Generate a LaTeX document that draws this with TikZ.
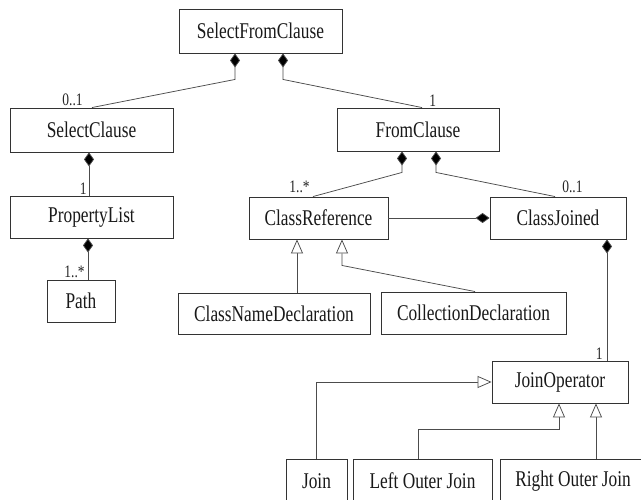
\documentclass[tikz,border=0pt]{standalone}
\usepackage{fontspec}
\setmainfont{Liberation Serif}[FakeStretch=0.77]
\usetikzlibrary{arrows.meta}

\tikzset{
  box/.style={draw=black!80, line width=0.9pt, inner sep=0pt, align=center,
    font=\fontsize{22.5}{26}\selectfont, text=black!90},
  mult/.style={inner sep=0pt, font=\fontsize{17.5}{20}\selectfont, text=black!85},
  comp/.style={draw=black!70, line width=0.75pt,
    {Diamond[length=14pt,width=10pt,fill=black]}-},
  compend/.style={draw=black!70, line width=0.75pt,
    -{Diamond[length=14pt,width=10pt,fill=black]}},
  gen/.style={draw=black!70, line width=0.75pt,
    -{Triangle[open,length=14pt,width=12pt,fill=white]}}
}

\begin{document}
\begin{tikzpicture}[x=1pt,y=-1pt]
\useasboundingbox[fill=white] (0,0) rectangle (641,500);

% classes
\node[box, minimum width=163pt, minimum height=44pt] (sfc)  at (260.5,31)  {SelectFromClause};
\node[box, minimum width=163pt, minimum height=44pt] (sc)   at (91.5,130)  {SelectClause};
\node[box, minimum width=162pt, minimum height=43pt] (fc)   at (418,129.5) {FromClause};
\node[box, minimum width=163pt, minimum height=42pt] (pl)   at (91.5,217)  {PropertyList};
\node[box, minimum width=68pt,  minimum height=42pt] (path) at (81,301)    {Path};
\node[box, minimum width=139pt, minimum height=42pt] (cr)   at (318.5,218) {ClassReference};
\node[box, minimum width=136pt, minimum height=42pt] (cj)   at (558,218)   {ClassJoined};
\node[box, minimum width=192pt, minimum height=41pt] (cnd)  at (274,313.5) {ClassNameDeclaration};
\node[box, minimum width=185pt, minimum height=42pt] (cd)   at (473.5,313) {CollectionDeclaration};
\node[box, minimum width=136pt, minimum height=42pt] (jo)   at (560,382)   {JoinOperator};
\node[box, minimum width=61pt,  minimum height=44pt] (join) at (316.5,481) {Join};
\node[box, minimum width=139pt, minimum height=44pt] (loj)  at (422.5,481) {Left Outer Join};
\node[box, minimum width=146pt, minimum height=44pt] (roj)  at (573,481)   {Right Outer Join};

% compositions
\draw[comp] ([xshift=-25.5pt]sfc.south) -- ++(0,26) -- ([xshift=0.5pt]sc.north)
  node[mult, anchor=base east, xshift=-9pt, yshift=2pt] (m1) {0..1};
\draw[comp] ([xshift=22.5pt]sfc.south) -- ++(0,26) -- ([xshift=4pt]fc.north)
  node[mult, anchor=base west, xshift=7pt, yshift=1pt] (m2) {1};
\draw[comp] ([xshift=-2.5pt]sc.south) -- ([xshift=-2.5pt]pl.north)
  node[mult, anchor=base east, xshift=-2pt, yshift=1pt] (m3) {1};
\draw[comp] ([xshift=-3.5pt]pl.south) -- ([xshift=7pt]path.north)
  node[mult, anchor=base east, xshift=-3pt, yshift=2pt] (m4) {1..*};
\draw[comp] ([xshift=-16pt]fc.south) -- ++(0,21) -- ([xshift=-5.5pt]cr.north)
  node[mult, anchor=base east, xshift=-3pt, yshift=4pt] (m5) {1..*};
\draw[comp] ([xshift=18pt]fc.south) -- ++(0,21) -- ([xshift=-3pt]cj.north)
  node[mult, anchor=base west, xshift=7pt, yshift=4pt] (m6) {0..1};
\draw[compend] (cr.east) -- (cj.west);
\draw[comp] ([xshift=49pt]cj.south) -- ([xshift=47pt]jo.north)
  node[mult, anchor=base east, xshift=-4pt, yshift=1pt] (m7) {1};

% generalizations
\draw[gen] ([xshift=23pt]cnd.north) -- ([xshift=-21.5pt]cr.south);
\draw[gen] ([xshift=1.5pt]cd.north) -- ([xshift=23.5pt,yshift=-26pt]cr.south) -- ([xshift=23.5pt]cr.south);
\draw[gen] (join.north) |- (jo.west);
\draw[gen] ([xshift=-4.5pt]loj.north) |- ([xshift=-1pt,yshift=-26pt]jo.south) -- ([xshift=-1pt]jo.south);
\draw[gen] ([xshift=23pt]roj.north) -- ([xshift=36pt]jo.south);
\end{tikzpicture}
\end{document}
